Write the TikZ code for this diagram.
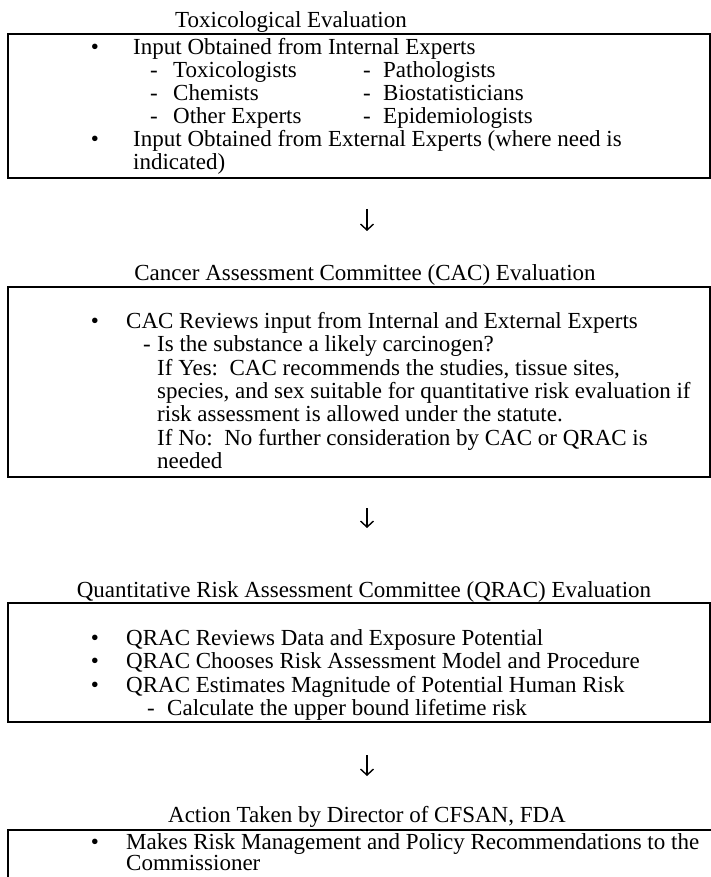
\documentclass[tikz,border=0pt]{standalone}
\usepackage{fontspec}
\setmainfont{Liberation Serif}
\usetikzlibrary{calc}
\usetikzlibrary{arrows.meta}

\tikzset{
  txt/.style={anchor=base west, inner sep=0pt, font=\fontsize{23}{21}\selectfont},
  ttl/.style={anchor=base, inner sep=0pt, font=\fontsize{23}{21}\selectfont},
  dot/.style={anchor=base, inner sep=0pt, font=\fontsize{23}{21}\selectfont},
  frame/.style={line width=2pt},
  down/.style={line width=1.4pt, -{Straight Barb[length=6pt, width=13pt]}},
}

\begin{document}
\begin{tikzpicture}[x=1pt, y=-1pt]
            \useasboundingbox (0, 0) rectangle (711, 877);
            \pgfmathsetmacro{\lft}{8}
            \pgfmathsetmacro{\rgt}{710}
            \pgfmathsetmacro{\mid}{367}

            % frame corners
            \coordinate (A1) at (\lft, 34);
            \coordinate (B1) at (\rgt, 178);
            \coordinate (A2) at (\lft, 287);
            \coordinate (B2) at (\rgt, 477);
            \coordinate (A3) at (\lft, 603);
            \coordinate (B3) at (\rgt, 722);
            \coordinate (A4) at (\lft, 830);
            \coordinate (B4) at (711, 830);
            \coordinate (C4) at (\lft, 877);

            \draw [frame] (A1) rectangle (B1);
            \draw [frame] (A2) rectangle (B2);
            \draw [frame] (A3) rectangle (B3);
            \draw [frame] (B4) -- (A4) -- (C4);

            % titles
            \node [ttl] (tox) at (291, 28) {Toxicological Evaluation};
            \node [ttl] (cac) at (365, 280) {Cancer Assessment Committee (CAC) Evaluation};
            \node [ttl] (qrac) at (364, 597) {Quantitative Risk Assessment Committee (QRAC) Evaluation};
            \node [ttl] (act) at (\mid, 822) {Action Taken by Director of CFSAN, FDA};

            % arrows
            \coordinate (u1) at (\mid, 209);
            \coordinate (d1) at (\mid, 231);
            \coordinate (u2) at (\mid, 508);
            \coordinate (d2) at (\mid, 528);
            \coordinate (u3) at (\mid, 755);
            \coordinate (d3) at (\mid, 776);
            \draw [down] (u1) -- (d1);
            \draw [down] (u2) -- (d2);
            \draw [down] (u3) -- (d3);

            % toxicological box
            \node [dot] (toxb1) at (95, 55) {•};
            \node [txt] (tox1) at (133, 55) {Input Obtained from Internal Experts};
            \node [txt] (toxd1) at (150, 78) {-};
            \node [txt] (tox2) at (173, 78) {Toxicologists};
            \node [txt] (toxd2) at (363, 78) {-};
            \node [txt] (tox3) at (383, 78) {Pathologists};
            \node [txt] (toxd3) at (150, 101) {-};
            \node [txt] (tox4) at (173, 101) {Chemists};
            \node [txt] (toxd4) at (363, 101) {-};
            \node [txt] (tox5) at (383, 101) {Biostatisticians};
            \node [txt] (toxd5) at (150, 124) {-};
            \node [txt] (tox6) at (173, 124) {Other Experts};
            \node [txt] (toxd6) at (363, 124) {-};
            \node [txt] (tox7) at (383, 124) {Epidemiologists};
            \node [dot] (toxb2) at (95, 147) {•};
            \node [txt] (tox8) at (133, 147) {Input Obtained from External Experts (where need is};
            \node [txt] (tox9) at (133, 170) {indicated)};

            % CAC box
            \node [dot] (cacb1) at (95, 328) {•};
            \node [txt] (cac1) at (126, 328) {CAC Reviews input from Internal and External Experts};
            \node [txt] (cacd1) at (143, 351) {-};
            \node [txt] (cac2) at (157, 351) {Is the substance a likely carcinogen?};
            \node [txt] (cac3) at (157, 375) {If Yes:\ \ CAC recommends the studies, tissue sites,};
            \node [txt] (cac4) at (157, 398) {species, and sex suitable for quantitative risk evaluation if};
            \node [txt] (cac5) at (157, 421) {risk assessment is allowed under the statute.};
            \node [txt] (cac6) at (157, 445) {If No:\ \ No further consideration by CAC or QRAC is};
            \node [txt] (cac7) at (157, 468) {needed};

            % QRAC box
            \node [dot] (qracb1) at (95, 645) {•};
            \node [txt] (qrac1) at (126, 645) {QRAC Reviews Data and Exposure Potential};
            \node [dot] (qracb2) at (95, 668) {•};
            \node [txt] (qrac2) at (126, 668) {QRAC Chooses Risk Assessment Model and Procedure};
            \node [dot] (qracb3) at (95, 692) {•};
            \node [txt] (qrac3) at (126, 692) {QRAC Estimates Magnitude of Potential Human Risk};
            \node [txt] (qracd1) at (147, 715) {-};
            \node [txt] (qrac4) at (167, 715) {Calculate the upper bound lifetime risk};

            % action box
            \node [dot] (actb1) at (95, 849) {•};
            \node [txt] (act1) at (126, 849) {Makes Risk Management and Policy Recommendations to the};
            \node [txt] (act2) at (126, 870) {Commissioner};
        \end{tikzpicture}
\end{document}
